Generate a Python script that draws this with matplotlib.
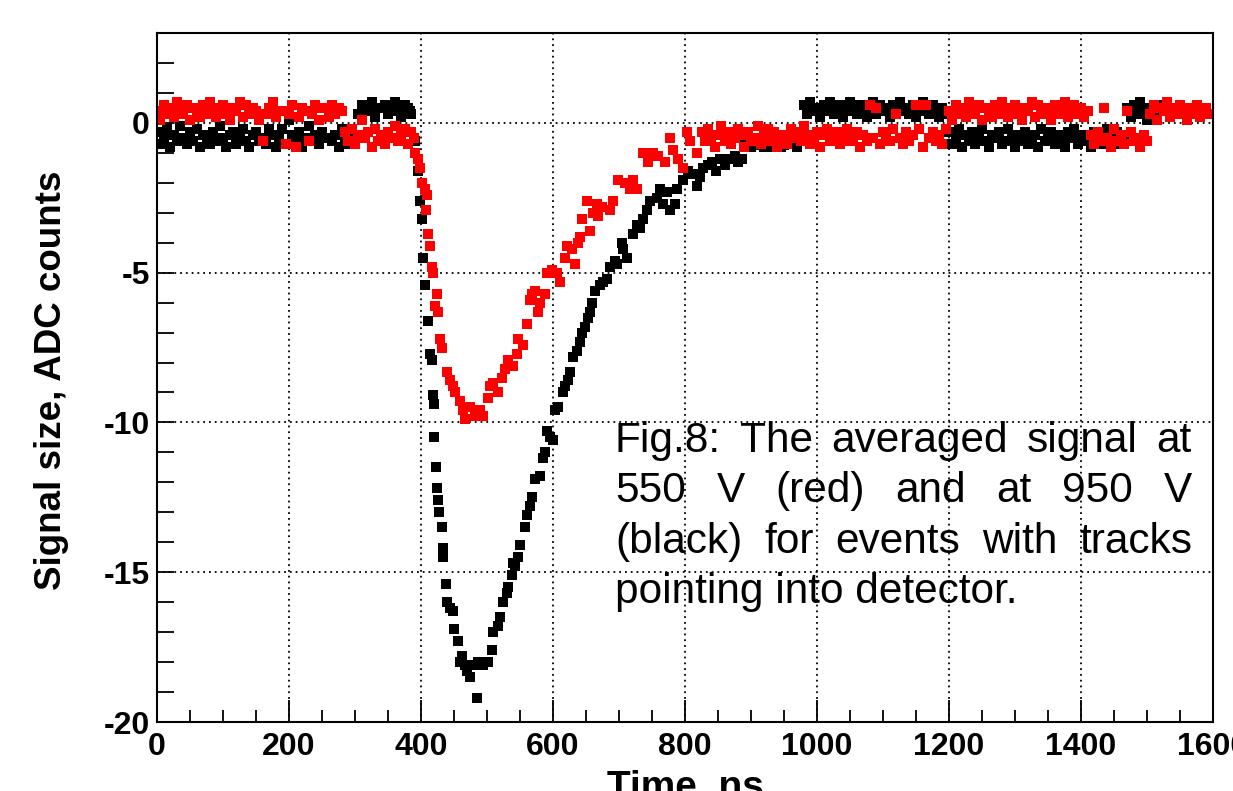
import numpy as np
import matplotlib
matplotlib.use("Agg")
import matplotlib.pyplot as plt
from matplotlib.ticker import MultipleLocator

plt.rcParams["font.family"] = ["Liberation Sans", "DejaVu Sans"]
plt.rcParams["axes.unicode_minus"] = False

# sampling step of the flat (baseline) parts, ns
STEP_NS = 5

# --- 950 V (black) ---
# baseline before the pulse, starting at 0 ns
black_pre_start = 0
black_pre = [
    -0.3, -0.7, -0.5, -0.2, -0.8, -0.4, -0.6, -0.1, -0.5, -0.7, -0.3, -0.6, -0.2,
    -0.8, -0.4, -0.5, -0.7, -0.3, -0.6, -0.1, -0.5, -0.8, -0.4, -0.3, -0.7, -0.5,
    -0.2, -0.6, -0.8, -0.4, -0.3, -0.6, -0.5, -0.7, -0.2, -0.4, -0.8,
    -0.5, -0.2, -0.7, 0.1, -0.4, -0.6, -0.3, -0.8, -0.5, -0.1, -0.6, -0.4, -0.7,
    -0.3, -0.5, 0.2, -0.6, -0.4, -0.8, -0.2, -0.5, -0.7, -0.3, -0.6,
    0.3, 0.6, -0.5, 0.4, 0.7, 0.2, 0.5, -0.6, 0.6, 0.3, 0.5, 0.7, 0.4, 0.2, 0.6,
    0.5, 0.3,
]
# pulse, read point by point
black_pulse_t = [
    383, 391, 395, 398, 402, 403, 406, 411, 414, 417, 418, 419, 420, 423, 424,
    425, 427, 432, 433, 434, 438, 439, 444, 448, 450, 456, 459, 462, 467, 470,
    474, 482, 485, 486, 494, 502, 508, 509, 517, 520, 524, 530, 532, 538, 539,
    542, 547, 550, 558, 561, 565, 568, 573, 580, 585, 588, 591, 595, 600, 603,
    608, 615, 618, 623, 626, 630, 636, 641, 644, 648, 653, 656, 659, 664, 671,
    676, 682, 686, 694, 697, 705, 706, 712, 721, 727, 732, 736, 742, 747, 758,
    762, 767, 773, 777, 785, 788, 797, 805, 812, 818, 823, 827, 835, 841, 847,
    853, 861, 868, 876, 880, 886,
]
black_pulse_v = [
    0.4, -0.6, -1.6, -2.6, -3.2, -4.5, -5.4, -6.6, -7.7, -7.9, -9.1, -9.4, -10.5,
    -11.5, -12.2, -12.6, -13.0, -13.5, -14.2, -14.5, -15.4, -16.0, -16.2, -16.3,
    -16.9, -17.3, -18.0, -17.8, -18.1, -18.3, -18.5, -18.1, -19.2, -18.0, -18.1,
    -18.0, -17.6, -17.0, -16.8, -16.5, -16.0, -15.7, -15.5, -15.1, -14.7, -14.8,
    -14.5, -14.1, -13.5, -13.1, -12.8, -12.5, -11.9, -11.8, -11.2, -11.0, -10.3,
    -10.5, -10.6, -9.6, -9.5, -9.0, -8.8, -8.6, -8.3, -7.8, -7.6, -7.3, -7.0,
    -6.8, -6.5, -6.3, -6.0, -5.6, -5.4, -5.3, -5.2, -4.8, -4.6, -4.7, -4.0, -4.2,
    -4.5, -3.7, -3.4, -3.5, -3.2, -2.9, -2.6, -2.5, -2.2, -2.7, -2.3, -2.9, -2.7,
    -2.2, -1.9, -1.6, -1.7, -2.1, -1.8, -1.5, -1.4, -1.3, -1.6, -1.2, -1.4, -1.2,
    -1.1, -1.3, -1.2,
]
# baseline after the pulse
black_post_start = 890
black_post = [
    -0.75, -0.6, -0.8, -0.7, -0.5, -0.75, -0.8, -0.6, -0.8, -0.7, -0.5, -0.8,
    -0.75, -0.6, -0.7, -0.4, -0.8, -0.6,
    0.6, 0.3, 0.7, 0.4, 0.5, 0.2, 0.6, 0.4, 0.7, 0.3, 0.5, 0.6, 0.2, 0.4, 0.7,
    0.5, 0.3, 0.6, 0.4, 0.2, 0.5, 0.7, 0.3, 0.6, 0.4, 0.5, 0.2, 0.6, 0.3, 0.7,
    0.4, 0.5, 0.3, 0.6, 0.2, 0.4, 0.7, 0.5, 0.3, 0.6, 0.4, 0.2, 0.5, 0.3,
    -0.3, -0.7, -0.5, -0.2, -0.8, -0.4, -0.6, -0.3, -0.7, -0.5, -0.2, -0.6, -0.8,
    -0.4, -0.5, -0.3, -0.7, -0.6, -0.2, -0.5, -0.8, -0.4, -0.6, -0.3, -0.7, -0.5,
    -0.4, -0.8, -0.2, -0.6, -0.5, -0.3, -0.7, -0.4, -0.6, -0.8, -0.3, -0.5, -0.2,
    -0.7, -0.4, -0.6, -0.5, -0.8, -0.3, -0.6, -0.4, -0.7, -0.2, -0.5,
    -0.5, -0.3, -0.7, -0.4, 0.5, 0.2, 0.6, 0.3, 0.7, 0.4, 0.1, 0.5, 0.6, 0.3,
    0.4, 0.6,
]

# --- 550 V (red) ---
red_pre_start = 0
red_pre = [
    0.4, 0.1, 0.6, 0.3, 0.5, 0.2, 0.7, 0.4, 0.3, 0.6, 0.1, 0.5, 0.4, 0.2, 0.6,
    0.3, 0.7, 0.5, 0.2, 0.4, 0.6, 0.3, 0.1, 0.5, 0.4, 0.7, 0.2, 0.6, 0.3, 0.5,
    0.4, 0.1, -0.6, 0.3, 0.5, 0.7, 0.2, 0.4,
    0.4, -0.7, 0.3, 0.6, -0.8, 0.2, 0.5, 0.4, -0.6, 0.3, 0.6, 0.1, 0.5,
    0.5, 0.2, 0.6, 0.3, 0.5, 0.4,
    -0.3, -0.6, -0.2, -0.7, -0.4, 0.1, -0.5, -0.3, -0.8, -0.2, -0.6, -0.4, -0.7,
    -0.3, -0.5, -0.1, -0.6, -0.4, -0.2, -0.7, -0.3, -0.5,
]
red_pulse_t = [
    391, 395, 398, 402, 406, 408, 409, 411, 414, 417, 418, 421, 424, 426, 429,
    432, 439, 444, 448, 452, 459, 464, 467, 474, 482, 489, 494, 502, 505, 509,
    517, 523, 527, 532, 539, 545, 547, 555, 561, 565, 568, 573, 577, 580, 588,
    591, 598, 606, 611, 618, 621, 629, 633, 638, 641, 644, 652, 656, 661, 667,
    668, 674, 686, 691, 698, 709, 717, 721, 727, 736, 744, 752, 759, 770, 777,
    782, 789, 797, 803, 808, 818,
]
red_pulse_v = [
    -1.0, -1.2, -1.5, -2.0, -2.2, -2.9, -2.4, -3.7, -4.1, -4.8, -5.0, -6.1, -5.7,
    -6.3, -7.2, -7.5, -8.3, -8.6, -8.8, -9.0, -9.3, -9.6, -9.9, -9.5, -9.8, -9.6,
    -9.8, -9.2, -8.8, -8.7, -9.0, -8.5, -8.2, -7.9, -8.1, -7.7, -7.2, -7.4, -6.7,
    -5.9, -5.7, -5.6, -6.3, -6.0, -5.7, -5.0, -4.9, -5.0, -5.3, -4.5, -4.1, -4.2,
    -4.7, -4.0, -3.8, -3.2, -2.6, -3.6, -3.0, -2.7, -3.1, -2.8, -2.9, -2.6, -1.9,
    -2.0, -2.2, -1.9, -2.2, -1.0, -1.3, -1.0, -1.1, -1.3, -0.5, -0.9, -1.2, -1.5,
    -0.3, -0.6, -1.0,
]
red_post_start = 825
red_post = [
    -0.3, -0.6, -0.2, -0.5, -0.8, -0.4, -0.1, -0.6, -0.3, -0.7, -0.5, -0.2, -0.4,
    -0.8, -0.3, -0.6, -0.5, -0.1, -0.7, -0.4,
    -0.2, -0.6, -0.3, -0.8, -0.5, -0.4, -0.7, -0.2, -0.5, -0.3, -0.6, -0.1, -0.4,
    -0.7, -0.5, -0.3, -0.8, -0.4, -0.2, -0.6,
    -0.5, -0.3, -0.7, -0.4, -0.2, -0.6, -0.5, -0.3, -0.8, -0.4, -0.6, 0.6, -0.5,
    0.5, -0.7, -0.3, -0.4, -0.6, -0.2, 0.3,
    -0.5, -0.7, -0.3, -0.6, -0.4, 0.6, -0.2, -0.8, 0.6, -0.5, -0.3, -0.6, -0.4,
    -0.7, -0.2,
    0.4, 0.1, 0.6, 0.3, 0.5, 0.2, 0.7, 0.4, 0.3, 0.6, 0.1, 0.5, 0.4, 0.2, 0.6,
    0.3, 0.7, 0.5, 0.2, 0.4, 0.6, 0.3, 0.1, 0.5, 0.4, 0.7, 0.2, 0.6, 0.3, 0.5,
    0.4, 0.1, 0.6, 0.3, 0.5, 0.7, 0.2, 0.4, 0.6, 0.3, 0.5, 0.2, 0.4,
    -0.4, -0.7, -0.3, -0.6, 0.5, -0.5, -0.8, -0.2, -0.6, -0.4, -0.7, 0.4, -0.3,
    -0.6, -0.5, -0.8, -0.4, -0.6,
    0.3, 0.6, 0.1, 0.5, 0.4, 0.7, 0.2, 0.5, 0.3, 0.6, 0.4, 0.1, 0.5, 0.3, 0.6,
    0.2, 0.4, 0.5, 0.3,
]

CAPTION = [
    "Fig.8: The averaged signal at",
    "550 V (red) and at 950 V",
    "(black) for events with tracks",
    "pointing into detector.",
]

FIG_W, FIG_H = 1233, 791


def series(pre_start, pre, pulse_t, pulse_v, post_start, post):
    t_pre = pre_start + STEP_NS * np.arange(len(pre))
    t_post = post_start + STEP_NS * np.arange(len(post))
    t = np.concatenate([t_pre, pulse_t, t_post])
    v = np.concatenate([pre, pulse_v, post])
    return t, v


def draw_caption(fig, lines, left, right, first_base, step, size):
    """Justified block of text, positions in pixels from the top left."""
    renderer = fig.canvas.get_renderer()
    for i, line in enumerate(lines):
        y = 1 - (first_base + i * step) / FIG_H
        kw = dict(fontsize=size, va="baseline", ha="left", color="black")
        if i == len(lines) - 1:
            fig.text(left / FIG_W, y, line, **kw)
            continue
        words = line.split()
        texts = [fig.text(0, y, w, **kw) for w in words]
        widths = [t.get_window_extent(renderer).width for t in texts]
        gap = (right - left - sum(widths)) / (len(words) - 1)
        x = left
        for t, w in zip(texts, widths):
            t.set_x(x / FIG_W)
            x += w + gap


def main():
    fig = plt.figure(figsize=(FIG_W / 100, FIG_H / 100), dpi=100)
    ax = fig.add_axes([157 / FIG_W, 1 - 722 / FIG_H,
                       (1213 - 157) / FIG_W, (722 - 33) / FIG_H])

    t_b, v_b = series(black_pre_start, black_pre, black_pulse_t, black_pulse_v,
                      black_post_start, black_post)
    t_r, v_r = series(red_pre_start, red_pre, red_pulse_t, red_pulse_v,
                      red_post_start, red_post)

    ax.plot(t_b, v_b, ls="none", marker="s", ms=7.5, mew=0, color="black")
    ax.plot(t_r, v_r, ls="none", marker="s", ms=7.5, mew=0, color="#ff0000")

    ax.set_xlim(0, 1600)
    ax.set_ylim(-20, 3)
    ax.xaxis.set_major_locator(MultipleLocator(200))
    ax.xaxis.set_minor_locator(MultipleLocator(50))
    ax.yaxis.set_major_locator(MultipleLocator(5))
    ax.yaxis.set_minor_locator(MultipleLocator(1))

    ax.set_axisbelow(True)
    ax.grid(which="major", color="black", linestyle=(0, (1, 2.2)), linewidth=1.3)

    ax.tick_params(axis="both", which="both", direction="in", width=1.3,
                   top=False, right=False, labelsize=23)
    ax.tick_params(axis="x", which="major", length=16, pad=7)
    ax.tick_params(axis="x", which="minor", length=8.5)
    ax.tick_params(axis="y", which="both", length=12, pad=5)
    for lab in ax.get_xticklabels() + ax.get_yticklabels():
        lab.set_fontweight("bold")
    for sp in ax.spines.values():
        sp.set_linewidth(1.5)

    fig.text(52 / FIG_W, 1 - 380 / FIG_H, "Signal size, ADC counts",
             rotation=90, ha="center", va="center", fontsize=26.5,
             fontweight="bold")
    fig.text(685 / FIG_W, 1 - 798 / FIG_H, "Time, ns", ha="center",
             va="baseline", fontsize=28, fontweight="bold")

    draw_caption(fig, CAPTION, 615, 1192, 452, 50.3, 30.5)

    fig.savefig("out.png", dpi=100)
    plt.close(fig)


if __name__ == "__main__":
    main()
